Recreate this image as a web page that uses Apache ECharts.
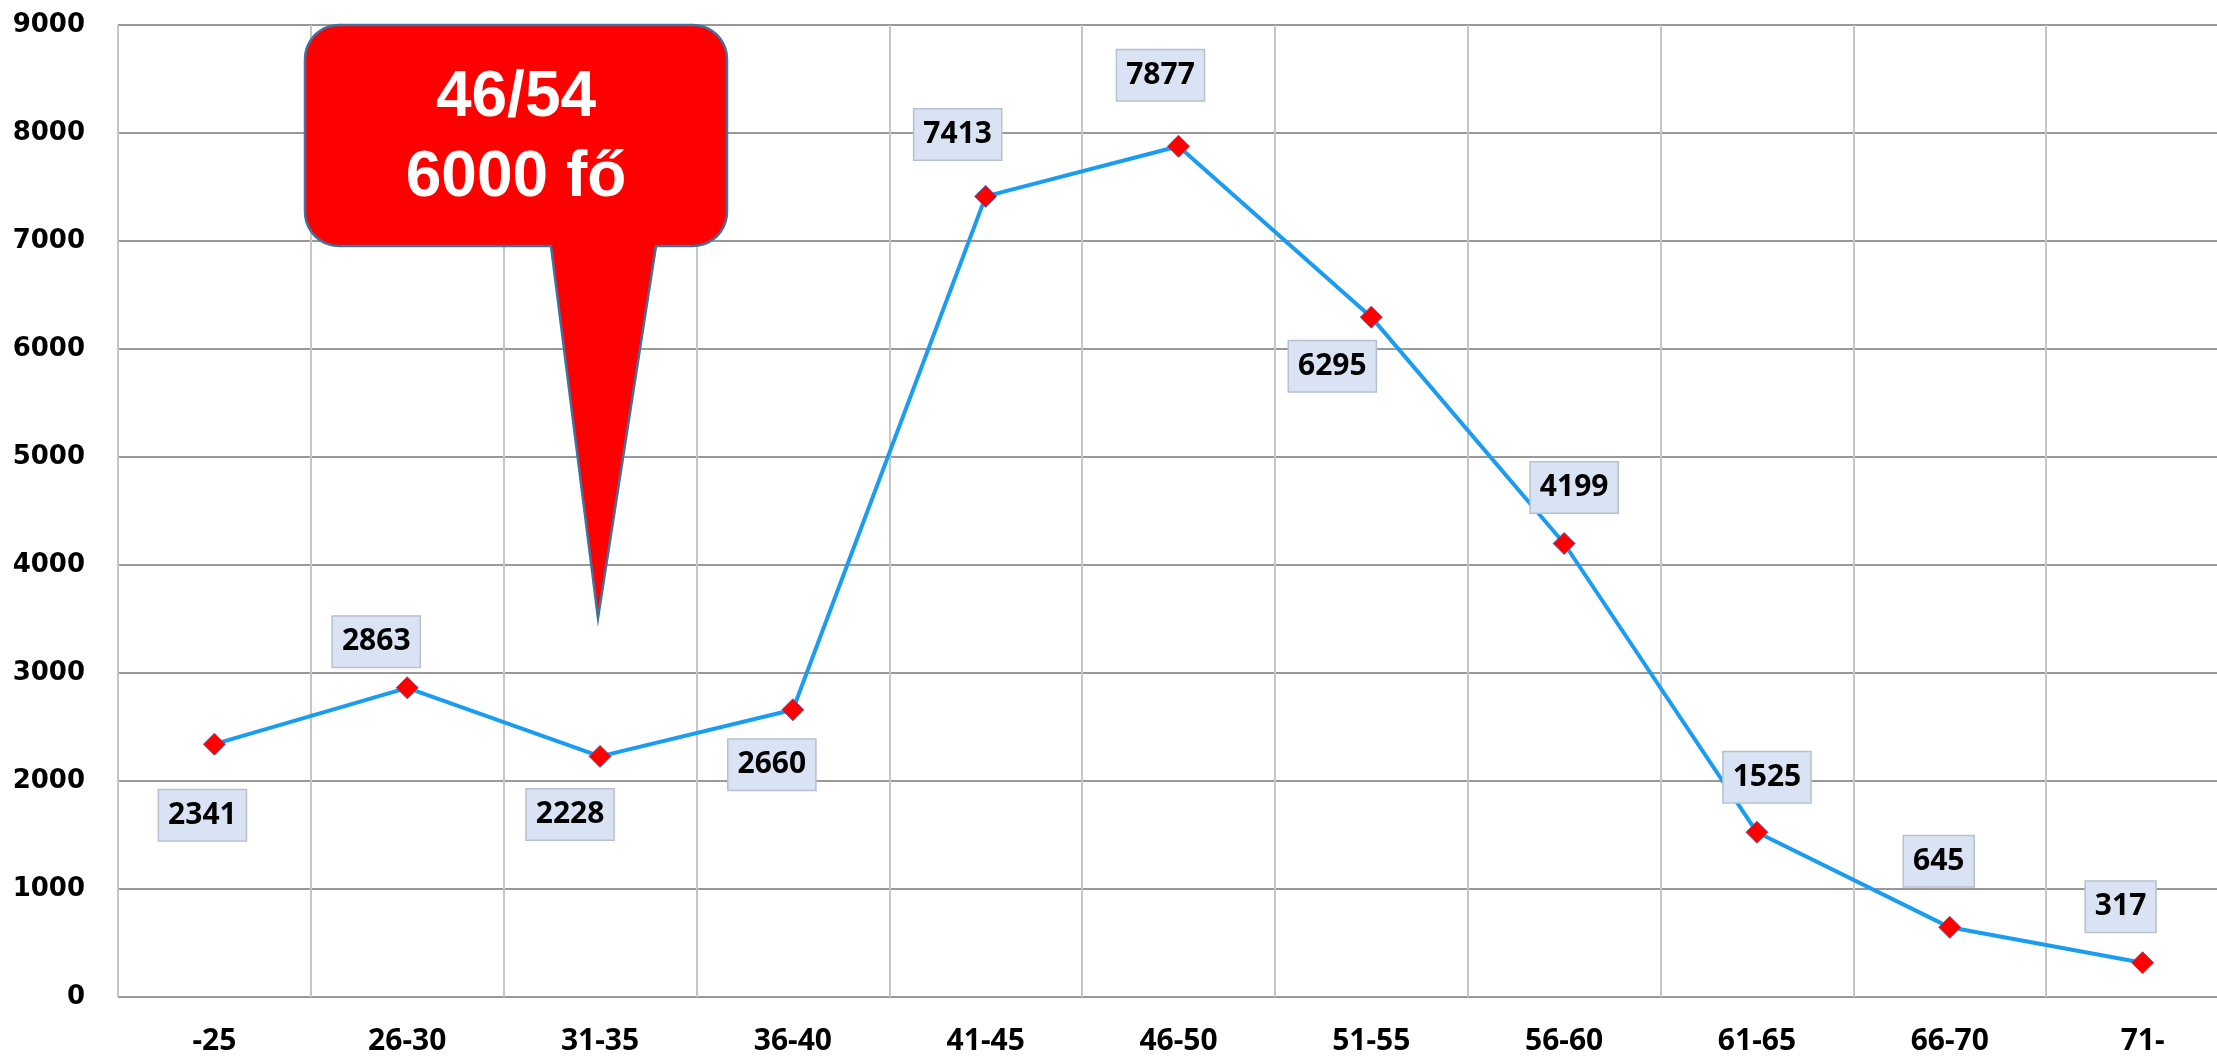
<!DOCTYPE html>
<html>
<head>
<meta charset="utf-8">
<script src="https://cdn.jsdelivr.net/npm/echarts@6/dist/echarts.min.js"></script>
<style>
  html, body { margin: 0; padding: 0; background: #fff; }
  #chart { width: 2217px; height: 1057px; }
</style>
</head>
<body>
<div id="chart"></div>
<script>
// korcsoportok
var categories = ["-25", "26-30", "31-35", "36-40", "41-45", "46-50", "51-55", "56-60", "61-65", "66-70", "71-"];
// létszám
var values = [2341, 2863, 2228, 2660, 7413, 7877, 6295, 4199, 1525, 645, 317];
// címke eltolás [dx, dy] a ponthoz képest
var labelOffsets = [[-12, 71], [-31, -46], [-30, 58], [-21, 55], [-28, -62], [-18, -71], [-39, 49], [10, -56], [10, -55], [-11, -66], [-22, -56]];
var calloutLines = ["46/54", "6000 fő"];

var chart = echarts.init(document.getElementById("chart"));

// lekerekített téglalap + csúcs egy sokszögben
function calloutPoints(x0, y0, x1, y1, r, tl, tr, tip) {
  var pts = [];
  function arc(cx, cy, a0, a1) {
    for (var i = 0; i <= 10; i++) {
      var a = a0 + (a1 - a0) * i / 10;
      pts.push([cx + r * Math.cos(a), cy + r * Math.sin(a)]);
    }
  }
  arc(x0 + r, y0 + r, Math.PI, Math.PI * 1.5);
  arc(x1 - r, y0 + r, Math.PI * 1.5, Math.PI * 2);
  arc(x1 - r, y1 - r, 0, Math.PI * 0.5);
  pts.push([tr, y1]);
  pts.push(tip);
  pts.push([tl, y1]);
  arc(x0 + r, y1 - r, Math.PI * 0.5, Math.PI);
  return pts;
}

var seriesData = values.map(function (v, i) {
  return {
    value: v,
    label: { offset: labelOffsets[i] }
  };
});

var option = {
  animation: false,
  grid: {
    left: 118,
    top: 25,
    width: 2121,
    height: 972,
    outerBoundsMode: "none"
  },
  xAxis: {
    type: "category",
    data: categories,
    boundaryGap: true,
    axisLine: { show: false },
    axisTick: { show: false },
    axisLabel: {
      margin: 29,
      color: "#000",
      fontFamily: "Noto Sans",
      fontWeight: "bold",
      fontSize: 30
    },
    splitLine: {
      show: true,
      interval: 0,
      lineStyle: { color: "#c6c6c6", width: 2 }
    }
  },
  yAxis: {
    type: "value",
    min: 0,
    max: 9000,
    interval: 1000,
    axisLine: { show: false },
    axisTick: { show: false },
    axisLabel: {
      margin: 33,
      color: "#000",
      fontFamily: "DejaVu Sans",
      fontWeight: "bold",
      fontSize: 26,
      formatter: function (v) { return String(v); }
    },
    splitLine: {
      lineStyle: { color: "#999999", width: 2 }
    }
  },
  series: [
    {
      type: "line",
      data: seriesData,
      symbol: "diamond",
      symbolSize: 22,
      lineStyle: { color: "#1a9cf0", width: 4 },
      itemStyle: {
        color: "#ff0000",
        borderColor: "#5a5ea8",
        borderWidth: 1
      },
      label: {
        show: true,
        position: "inside",
        color: "#000",
        fontFamily: "Noto Sans",
        fontWeight: "bold",
        fontSize: 30,
        lineHeight: 34,
        backgroundColor: "#dae3f3",
        borderColor: "#b7c0cf",
        borderWidth: 1.5,
        padding: [8, 9, 8, 9]
      },
      z: 3
    }
  ],
  graphic: [
    {
      type: "polygon",
      z: 100,
      shape: {
        points: calloutPoints(305, 25, 727, 246, 34, 551, 656, [598, 618])
      },
      style: {
        fill: "#ff0000",
        stroke: "#41719c",
        lineWidth: 2.5
      }
    },
    {
      type: "text",
      z: 101,
      x: 516,
      y: 98,
      style: {
        text: calloutLines[0],
        fill: "#fff",
        font: "bold 64px 'Liberation Sans', Arial, sans-serif",
        align: "center",
        verticalAlign: "middle"
      }
    },
    {
      type: "text",
      z: 101,
      x: 516,
      y: 178,
      style: {
        text: calloutLines[1],
        fill: "#fff",
        font: "bold 64px 'Liberation Sans', Arial, sans-serif",
        align: "center",
        verticalAlign: "middle"
      }
    }
  ]
};

chart.setOption(option);
window.addEventListener("resize", function () {
  chart.resize();
});
</script>
</body>
</html>
